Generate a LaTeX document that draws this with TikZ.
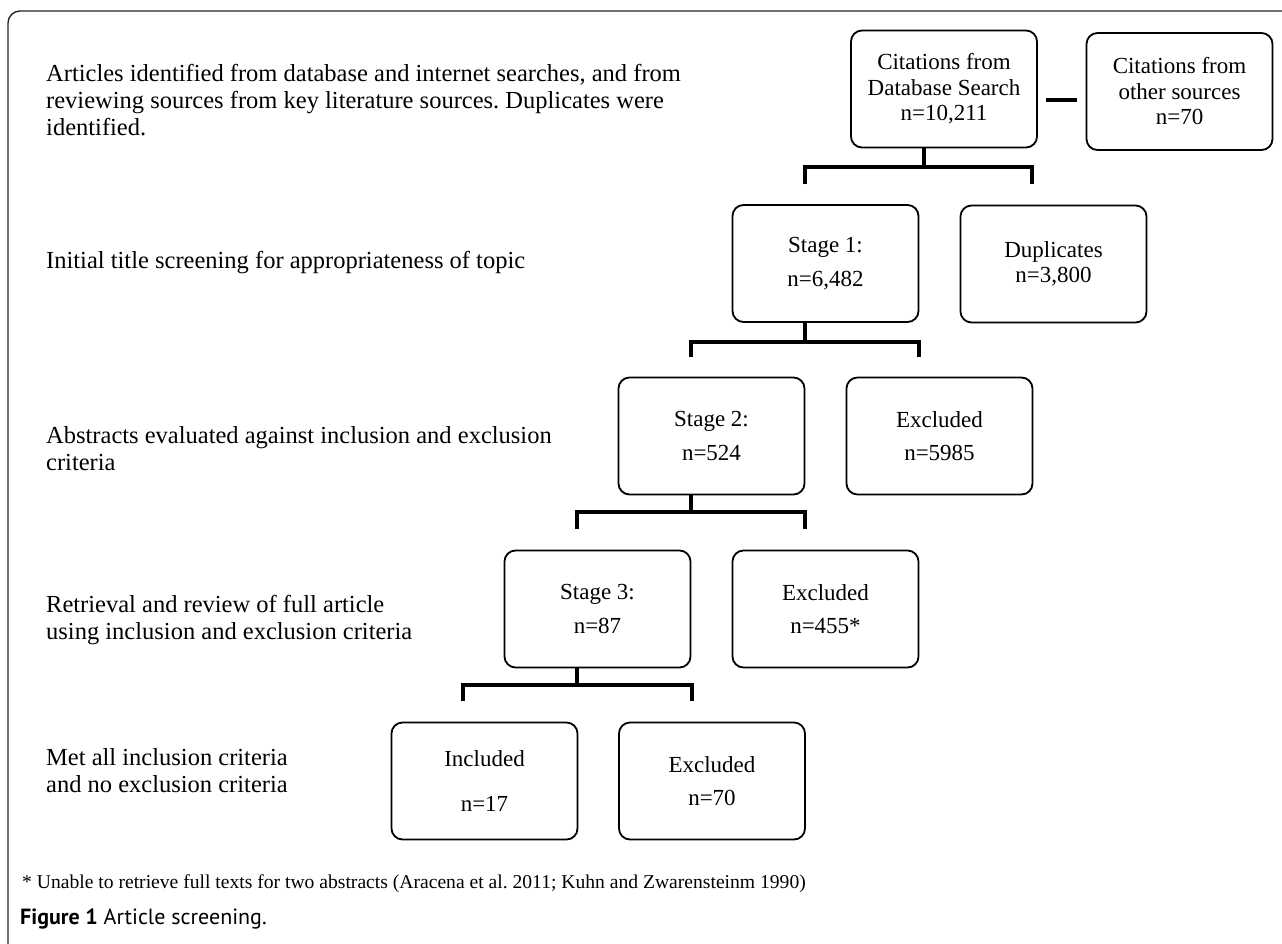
\documentclass[tikz,border=0pt]{standalone}
\usepackage{fontspec}
\setmainfont{Liberation Serif}
\newfontfamily\capfont{PT Sans}
\frenchspacing
\begin{document}
\begin{tikzpicture}[x=1pt,y=-1pt,
  box/.style={draw=black, line width=1.8pt, rounded corners=11pt, minimum width=186pt, minimum height=117pt, align=center, font=\fontsize{23}{25.5}\selectfont, inner sep=0pt},
  br/.style={line width=3.6pt, line cap=butt},
  lefttext/.style={anchor=west, align=left, font=\fontsize{24.5}{27}\selectfont, inner sep=0pt},
]
\useasboundingbox (0,0) rectangle (1282,943);
% outer frame
\draw[line width=1.4pt, draw=black!85, rounded corners=12pt] (8,950) -- (8,11) -- (1290,11);

% boxes
\node[box] (db) at (944,89) {Citations from\\Database Search\\n=10,211};
\node[box] (other) at (1179.5,91.5) {Citations from\\other sources\\n=70};
\node[box] (s1) at (825.5,263.5) {Stage 1:\\[8pt]n=6,482};
\node[box] (dup) at (1053.5,264) {Duplicates\\n=3,800};
\node[box] (s2) at (711.5,436) {Stage 2:\\[8pt]n=524};
\node[box] (ex1) at (939.5,436) {Excluded\\[8pt]n=5985};
\node[box] (s3) at (597.5,609) {Stage 3:\\[8pt]n=87};
\node[box] (ex2) at (825.5,609) {Excluded\\[8pt]n=455*};
\node[box] (inc) at (484.5,781) {Included\\[19pt]n=17};
\node[box] (ex3) at (712,781) {Excluded\\[8pt]n=70};

% dash between top boxes
\draw[br] ([xshift=8pt,yshift=-11pt]db.east) -- ([xshift=-9pt,yshift=-8.5pt]other.west);

% brackets
\coordinate (j1) at (924,167); \coordinate (l1) at (805,184); \coordinate (r1) at (1032,184);
\draw[br] ([xshift=-20pt]db.south) -- (j1);
\draw[br] (l1) -- (l1 |- j1) -- (r1 |- j1) -- (r1);

\coordinate (j2) at (805,342); \coordinate (l2) at (691,357); \coordinate (r2) at (919,357);
\draw[br] ([xshift=-20.5pt]s1.south) -- (j2);
\draw[br] (l2) -- (l2 |- j2) -- (r2 |- j2) -- (r2);

\coordinate (j3) at (691,512); \coordinate (l3) at (577,529); \coordinate (r3) at (805,529);
\draw[br] ([xshift=-20.5pt]s2.south) -- (j3);
\draw[br] (l3) -- (l3 |- j3) -- (r3 |- j3) -- (r3);

\coordinate (j4) at (577,685); \coordinate (l4) at (463,701); \coordinate (r4) at (692,701);
\draw[br] ([xshift=-20.5pt]s3.south) -- (j4);
\draw[br] (l4) -- (l4 |- j4) -- (r4 |- j4) -- (r4);

% left descriptions
\node[lefttext] (t1) at (46,100) {Articles identified from database and internet searches, and from\\reviewing sources from key literature sources. Duplicates were\\identified.};
\node[lefttext] (t2) at (46,263) {Initial title screening for appropriateness of topic};
\node[lefttext] (t3) at (46,449) {Abstracts evaluated against inclusion and exclusion\\criteria};
\node[lefttext] (t4) at (46,620) {Retrieval and review of full article\\using inclusion and exclusion criteria};
\node[lefttext] (t5) at (46,771) {Met all inclusion criteria\\and no exclusion criteria};

% footnote and caption
\node[anchor=west, inner sep=0pt, font=\fontsize{19.6}{21}\selectfont] (fn) at (22,884) {* Unable to retrieve full texts for two abstracts (Aracena et al. 2011; Kuhn and Zwarensteinm 1990)};
\node[anchor=west, inner sep=0pt, font=\capfont\fontsize{22}{24}\selectfont] (cap) at (20,919) {\textbf{Figure 1} Article screening.};
\end{tikzpicture}
\end{document}
